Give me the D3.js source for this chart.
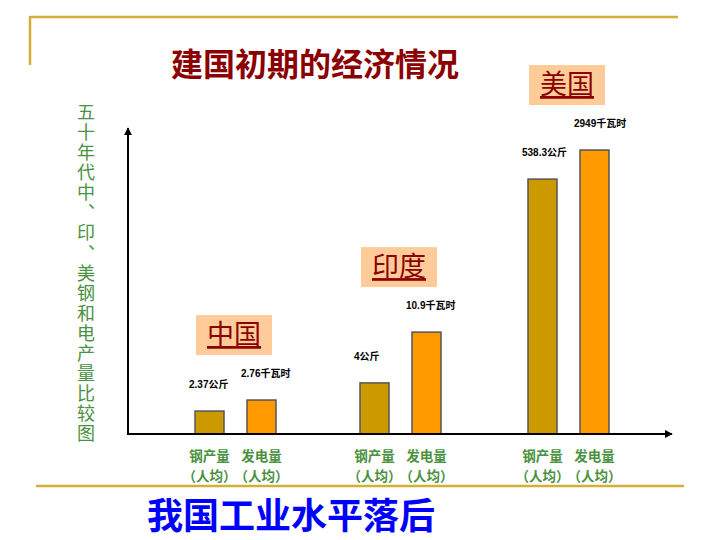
<!DOCTYPE html>
<html><head><meta charset="utf-8">
<script src="https://cdn.jsdelivr.net/npm/d3@7"></script>
<style>body{margin:0;background:#fff}svg{display:block}
.vt{writing-mode:vertical-rl;text-orientation:upright;font-feature-settings:"vert" 0,"vrt2" 0;}
</style>
</head><body>
<svg id="c" width="720" height="540"></svg>
<script>
// ---- data ----
const countries = ["中国", "印度", "美国"];
const measures = ["钢产量", "发电量"];
const measureSub = "（人均）";
// bar heights as drawn (schematic, % of axis height)
const steelHeights = [7.5, 16.7, 83.3];
const powerHeights = [11.1, 33.3, 92.8];
const steelLabels = ["2.37公斤", "4公斤", "538.3公斤"];
const powerLabels = ["2.76千瓦时", "10.9千瓦时", "2949千瓦时"];
const title = "建国初期的经济情况";
const sideTitle = "五十年代中、印、美钢和电产量比较图";
const conclusion = "我国工业水平落后";

const svg = d3.select("#c");
const gold = "#D4AF37";
const green = "#4A9140";
const darkRed = "#8B0000";
const font = "'Noto Sans CJK SC','Noto Sans',sans-serif";

// decorative frame lines
svg.append("line").attr("x1",30).attr("x2",678).attr("y1",17).attr("y2",17).attr("stroke",gold).attr("stroke-width",2.5);
svg.append("line").attr("x1",30).attr("x2",30).attr("y1",16).attr("y2",65).attr("stroke",gold).attr("stroke-width",2.5);
svg.append("line").attr("x1",36).attr("x2",684).attr("y1",486).attr("y2",486).attr("stroke",gold).attr("stroke-width",2.5);

// title
svg.append("text").attr("x",315).attr("y",76).attr("text-anchor","middle")
  .attr("font-family",font).attr("font-weight","bold").attr("font-size",32)
  .attr("fill",darkRed).text(title);

// vertical side title
svg.append("text").attr("class","vt").attr("x",86).attr("y",103)
  .attr("font-family",font).attr("font-size",18).attr("fill",green)
  .attr("letter-spacing","2.1px").text(sideTitle);

// scales
const x0 = 128, yBase = 434, yTop = 128;
const y = d3.scaleLinear().domain([0,100]).range([yBase, yTop]);
const groupStart = d3.scaleOrdinal().domain(countries).range([195, 360, 528]);
const barOffset = d3.scaleOrdinal().domain(measures).range([0, 52]);

const bars = [];
countries.forEach((c,i)=>{
  bars.push({c, m:measures[0], v:steelHeights[i], label:steelLabels[i], fill:"#CC9900"});
  bars.push({c, m:measures[1], v:powerHeights[i], label:powerLabels[i], fill:"#FF9900"});
});
const bw = 29;
const bx = d => groupStart(d.c) + barOffset(d.m);

// arrow marker
const defs = svg.append("defs");
defs.append("marker").attr("id","arr").attr("viewBox","0 0 10 10").attr("refX",9).attr("refY",5)
  .attr("markerWidth",4).attr("markerHeight",4).attr("orient","auto-start-reverse")
  .append("path").attr("d","M0,0 L10,5 L0,10 Z").attr("fill","#000");

// bars
svg.append("g").selectAll("rect").data(bars).join("rect")
  .attr("x",bx).attr("y",d=>y(d.v)).attr("width",bw).attr("height",d=>yBase - y(d.v))
  .attr("fill",d=>d.fill).attr("stroke","#555").attr("stroke-width",1.5);

// axes
svg.append("line").attr("x1",x0).attr("x2",x0).attr("y1",yBase+1).attr("y2",yTop)
  .attr("stroke","#000").attr("stroke-width",2).attr("marker-end","url(#arr)");
svg.append("line").attr("x1",x0-1).attr("x2",672).attr("y1",yBase).attr("y2",yBase)
  .attr("stroke","#000").attr("stroke-width",2).attr("marker-end","url(#arr)");

// value labels
svg.append("g").selectAll("text").data(bars).join("text")
  .attr("x",d=>bx(d)-6).attr("y",d=>y(d.v)-23)
  .attr("font-family","'Liberation Sans',Arial,'Noto Sans CJK SC',sans-serif").attr("font-weight","bold")
  .attr("font-size",10).attr("fill","#000").text(d=>d.label);

// category labels below axis
const cat = svg.append("g").selectAll("g").data(bars).join("g")
  .attr("transform",d=>`translate(${bx(d)+bw/2},0)`);
cat.append("text").attr("y",461).attr("text-anchor","middle").attr("font-family",font)
  .attr("font-weight","bold").attr("font-size",13.5).attr("fill",green).text(d=>d.m);
cat.append("text").attr("y",480.5).attr("text-anchor","middle").attr("font-family",font)
  .attr("font-weight","bold").attr("font-size",13.5).attr("fill",green).text(measureSub);

// country boxes
const elecTop = countries.map((c,i)=>y(powerHeights[i]));
const boxes = svg.append("g").selectAll("g").data(countries).join("g")
  .attr("transform",(d,i)=>`translate(${groupStart(d)+1},${elecTop[i]-45-40})`);
boxes.append("rect").attr("width",76).attr("height",40).attr("fill","#FFCC99");
boxes.append("text").attr("x",38).attr("y",29).attr("text-anchor","middle")
  .attr("font-family",font).attr("font-size",27).attr("fill",darkRed)
  .attr("text-decoration","underline").text(d=>d);

// conclusion
svg.append("text").attr("x",291).attr("y",529).attr("text-anchor","middle")
  .attr("font-family",font).attr("font-weight","bold").attr("font-size",36)
  .attr("fill","#0000FF").text(conclusion);
</script>
</body></html>
